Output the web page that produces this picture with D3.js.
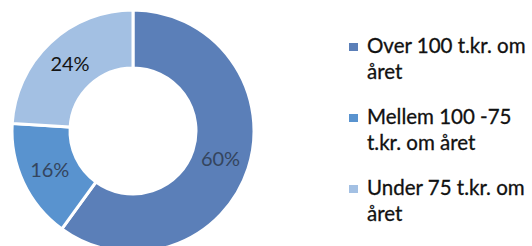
<!DOCTYPE html>
<html>
<head>
<meta charset="utf-8">
<script src="https://cdn.jsdelivr.net/npm/d3@7"></script>
<style>
  body { margin: 0; background: #fff; }
  svg { display: block; }
</style>
</head>
<body>
<svg id="chart" width="532" height="246"></svg>
<script>
// data
const categories = ["Over 100 t.kr. om året", "Mellem 100 -75 t.kr. om året", "Under 75 t.kr. om året"];
const values = [60, 16, 24];
const valueLabels = ["60%", "16%", "24%"];
const legendLines = [["Over 100 t.kr. om", "året"], ["Mellem 100 -75", "t.kr. om året"], ["Under 75 t.kr. om", "året"]];
const colors = ["#5b7fb8", "#5993cf", "#a3c0e3"];

const svg = d3.select("#chart");

const cx = 133, cy = 131;
const outerR = 121, innerR = 63;

const color = d3.scaleOrdinal().domain(categories).range(colors);

const pie = d3.pie().value(d => d.value).sort(null);
const arc = d3.arc().innerRadius(innerR).outerRadius(outerR);

const data = categories.map((c, i) => ({ name: c, value: values[i], label: valueLabels[i] }));

const g = svg.append("g").attr("transform", `translate(${cx},${cy})`);

g.selectAll("path")
  .data(pie(data))
  .join("path")
  .attr("d", arc)
  .attr("fill", d => color(d.data.name))
  .attr("stroke", "#fff")
  .attr("stroke-width", 3);

g.selectAll("text")
  .data(pie(data))
  .join("text")
  .attr("transform", d => `translate(${arc.centroid(d)})`)
  .attr("text-anchor", "middle")
  .attr("dy", "0.35em")
  .attr("font-family", "Lato, sans-serif")
  .attr("font-size", 20)
  .attr("fill", (d, i) => i == 2 ? "#141414" : "#34455e")
  .text(d => d.data.label);

// legend
const legendY = d3.scaleBand().domain(categories).range([47, 260]);

const leg = svg.append("g")
  .selectAll("g")
  .data(data)
  .join("g")
  .attr("transform", d => `translate(349,${legendY(d.name)})`);

leg.append("rect")
  .attr("x", 0)
  .attr("y", -4)
  .attr("width", 9)
  .attr("height", 8)
  .attr("fill", d => color(d.name));

leg.append("text")
  .attr("x", 18)
  .attr("font-family", "Lato, sans-serif")
  .attr("font-size", 20.5)
  .attr("fill", "#111")
  .attr("stroke", "#111")
  .attr("stroke-width", 0.3)
  .selectAll("tspan")
  .data((d, i) => legendLines[i])
  .join("tspan")
  .attr("x", 18)
  .attr("y", (d, j) => 6 + j * 26)
  .text(d => d);
</script>
</body>
</html>
